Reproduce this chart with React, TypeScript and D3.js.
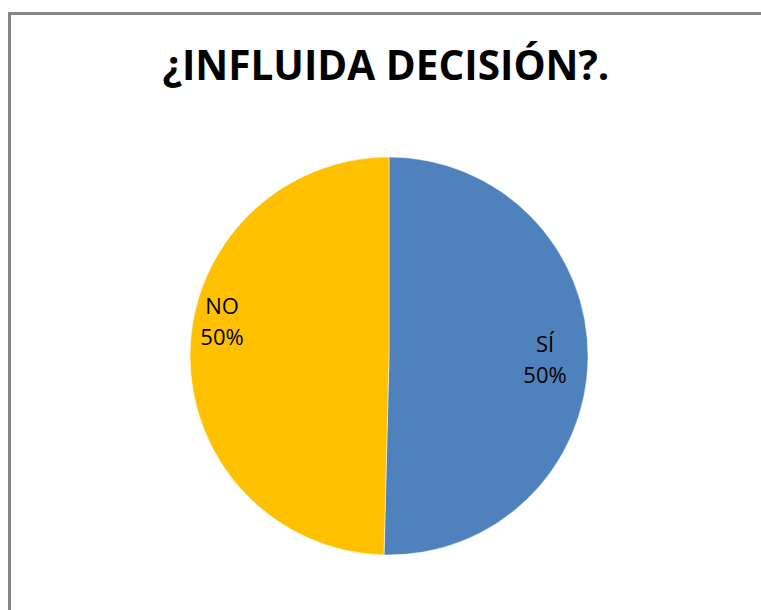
import React from "react";
import * as d3 from "d3";

const categories = ["SÍ", "NO"];
const values = [50.4, 49.6];
const labels = ["50%", "50%"];
const colors = ["#4F81BD", "#FFC000"];
const title = "¿INFLUIDA DECISIÓN?.";

export default function App() {
  const W = 761, H = 610;
  const cx = 389, cy = 356, r = 199;
  const pie = d3.pie<number>().sort(null).value((d) => d)(values);
  const arc = d3.arc<d3.PieArcDatum<number>>().innerRadius(0).outerRadius(r);
  const labelPos = [
    [545, 352],
    [222, 314],
  ];
  return (
    <svg width={W} height={H} style={{ position: "absolute", left: 0, top: 0 }} fontFamily="'Open Sans', sans-serif">
      <rect x={0} y={0} width={W} height={H} fill="#fff" />
      <rect x={9.5} y={13.5} width={W + 20} height={H + 20} fill="none" stroke="#868686" strokeWidth={3} />
      <text x={386} y={80} textAnchor="middle" fontSize={40.5} fontWeight="bold" fill="#000">{title}</text>
      <g transform={`translate(${cx},${cy})`}>
        {pie.map((p, i) => (
          <path key={i} d={arc(p) || ""} fill={colors[i]} stroke="#fff" strokeWidth={0.5} />
        ))}
      </g>
      {categories.map((c, i) => (
        <text key={c} x={labelPos[i][0]} y={labelPos[i][1]} textAnchor="middle" fontSize={22} fill="#000">
          <tspan x={labelPos[i][0]}>{c}</tspan>
          <tspan x={labelPos[i][0]} dy={31}>{labels[i]}</tspan>
        </text>
      ))}
    </svg>
  );
}
